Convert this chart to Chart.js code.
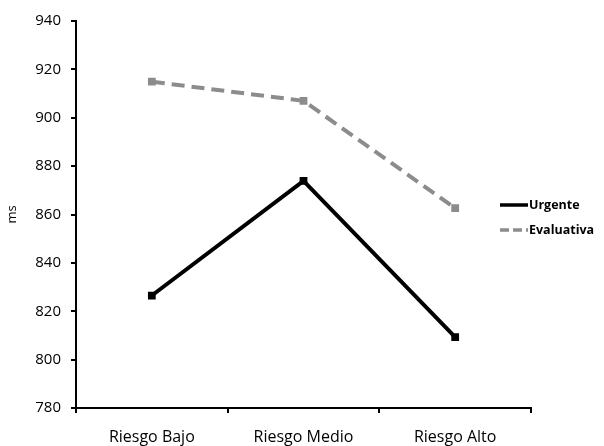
<!DOCTYPE html>
<html>
<head>
<meta charset="utf-8">
<script src="https://cdn.jsdelivr.net/npm/chart.js@4"></script>
<style>
  html, body { margin: 0; padding: 0; background: #fff; }
  #wrap { width: 604px; height: 446px; }
</style>
</head>
<body>
<div id="wrap"><canvas id="c" width="604" height="446"></canvas></div>
<script>
const categories = ['Riesgo Bajo', 'Riesgo Medio', 'Riesgo Alto'];
const urgente = [826.5, 873.9, 809.3];
const evaluativa = [914.9, 907.0, 862.6];
const yTicks = [780, 800, 820, 840, 860, 880, 900, 920, 940];

const FONT = '"Open Sans", Lato, sans-serif';

// Legend drawn inside the right margin, overlapping the plot edge
const sideLegend = {
  id: 'sideLegend',
  afterDraw(chart) {
    const ctx = chart.ctx;
    const x0 = 500, x1 = 528;
    const rows = [205, 230];
    ctx.save();
    chart.data.datasets.forEach((ds, i) => {
      const y = rows[i];
      ctx.beginPath();
      ctx.strokeStyle = ds.borderColor;
      ctx.lineWidth = 3.5;
      ctx.setLineDash(ds.borderDash ? [9, 4] : []);
      ctx.moveTo(x0, y);
      ctx.lineTo(x1, y);
      ctx.stroke();
      ctx.setLineDash([]);
      ctx.fillStyle = '#000';
      ctx.font = 'bold 12.5px ' + FONT;
      ctx.textAlign = 'left';
      ctx.textBaseline = 'middle';
      ctx.fillText(ds.label, x1 + 1, y);
    });
    ctx.restore();
  }
};

new Chart(document.getElementById('c'), {
  type: 'line',
  data: {
    labels: categories,
    datasets: [
      {
        label: 'Urgente',
        data: urgente,
        borderColor: '#000000',
        backgroundColor: '#000000',
        borderWidth: 4,
        pointStyle: 'rect',
        pointRadius: 5.5,
        pointBorderWidth: 0,
        tension: 0
      },
      {
        label: 'Evaluativa',
        data: evaluativa,
        borderColor: '#8c8c8c',
        backgroundColor: '#8c8c8c',
        borderWidth: 4,
        borderDash: [13, 7],
        pointStyle: 'rect',
        pointRadius: 5.5,
        pointBorderWidth: 0,
        tension: 0
      }
    ]
  },
  options: {
    responsive: false,
    animation: false,
    layout: { padding: { top: 21, right: 73, left: 0, bottom: 0 } },
    plugins: {
      legend: { display: false },
      tooltip: { enabled: false }
    },
    scales: {
      x: {
        offset: true,
        grid: {
          offset: true,
          drawOnChartArea: false,
          drawTicks: true,
          tickLength: 5,
          color: '#000',
          lineWidth: 2
        },
        border: { display: true, color: '#000', width: 2 },
        ticks: {
          color: '#000',
          padding: 15,
          font: { family: FONT, size: 16 },
          maxRotation: 0
        },
        afterFit(scale) { scale.height = 38; }
      },
      y: {
        min: 780,
        max: 940,
        afterBuildTicks(scale) {
          scale.ticks = yTicks.map(v => ({ value: v }));
        },
        grid: {
          drawOnChartArea: false,
          drawTicks: true,
          tickLength: 5,
          color: '#000',
          lineWidth: 2
        },
        border: { display: true, color: '#000', width: 2 },
        ticks: {
          color: '#000',
          padding: 10,
          font: { family: FONT, size: 15 }
        },
        title: {
          display: true,
          text: 'ms',
          color: '#000',
          font: { family: FONT, size: 13 },
          padding: 4
        },
        afterFit(scale) { scale.width = 76; }
      }
    }
  },
  plugins: [sideLegend]
});
</script>
</body>
</html>
